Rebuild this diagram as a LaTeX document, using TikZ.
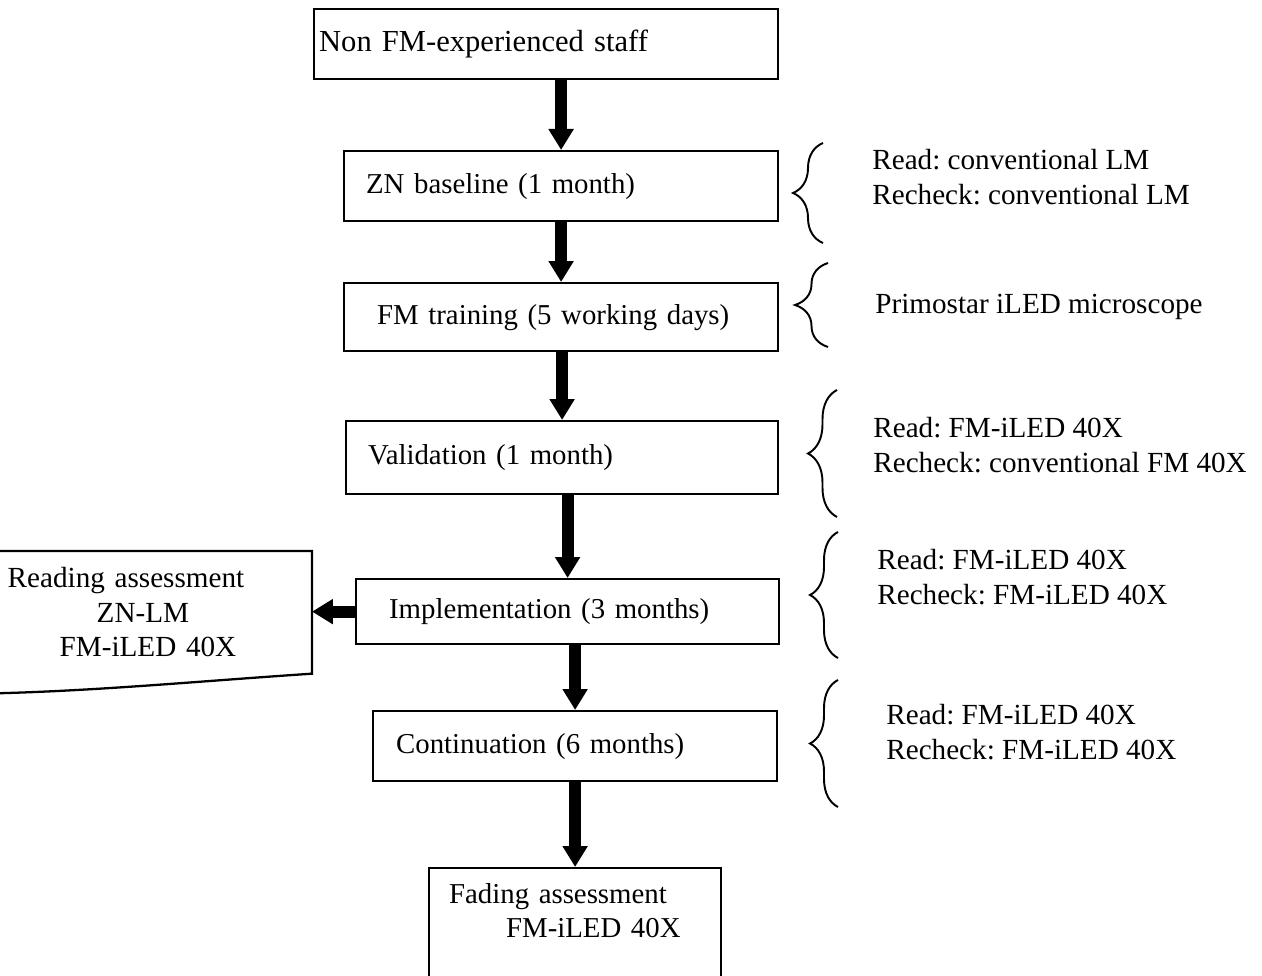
\documentclass[tikz,border=0pt]{standalone}
\usepackage{fontspec}
\setmainfont{Liberation Serif}
\usepackage{tikz}
\usetikzlibrary{arrows.meta,calc,decorations.pathreplacing}
\frenchspacing

\begin{document}
\begin{tikzpicture}[x=0.02cm,y=-0.02cm,
  stage/.style={draw,line width=1.3pt,anchor=north west,align=left,inner ysep=0pt,font=\fontsize{16.4}{19.6}\selectfont},
  note/.style={anchor=west,align=left,inner sep=0pt,font=\fontsize{16.6}{19.6}\selectfont},
  arr/.style={line width=0.24cm,-{Triangle[width=0.48cm,length=0.42cm]}},
  curly/.style={decorate,decoration={brace,amplitude=#1},line width=1.1pt}]
  \useasboundingbox (0,0) rectangle (1262,976);
  \clip (0,0) rectangle (1262,976);
  % main column
  \node[stage,text width=9.08cm,inner xsep=0.1cm,minimum height=1.4cm,font=\fontsize{17.4}{20}\selectfont] (nonfm) at (313,8) {Non FM-experienced staff};
  \node[stage,text width=7.8cm,inner xsep=0.44cm,minimum height=1.4cm] (znbase) at (343,150) {ZN baseline (1 month)};
  \node[stage,text width=7.36cm,inner xsep=0.66cm,minimum height=1.36cm] (fmtrain) at (343,282) {FM training (5 working days)};
  \node[stage,text width=7.76cm,inner xsep=0.44cm,minimum height=1.46cm] (valid) at (345,420) {Validation (1 month)};
  \node[stage,text width=7.14cm,inner xsep=0.66cm,minimum height=1.3cm] (implem) at (355,578) {Implementation (3 months)};
  \node[stage,text width=7.16cm,inner xsep=0.46cm,minimum height=1.4cm] (contin) at (372,710) {Continuation (6 months)};
  \node[stage,text width=5.04cm,inner xsep=0.4cm,inner ysep=0.3cm,text depth=1.7cm] (fading) at (428,867) {Fading assessment\\\hspace*{1.14cm}FM-iLED 40X};
  % side box
  \node[anchor=north east,align=left,text width=5.52cm,inner xsep=0.56cm,minimum height=2.44cm,font=\fontsize{16.6}{19.6}\selectfont] (readassess) at (312,551) {Reading assessment\\\hspace*{1.78cm}ZN-LM\\\hspace*{1.04cm}FM-iLED 40X};
  \draw[line width=1.3pt] ($(readassess.south west)+(0,20)$) -- (readassess.north west) -- (readassess.north east) -- (readassess.south east)
    .. controls +(-120,8) and +(110,-2) .. ($(readassess.south west)+(0,20)$);
  % arrows
  \draw[arr] (nonfm.south -| znbase.north) -- (znbase.north);
  \draw[arr] (znbase.south -| fmtrain.north) -- (fmtrain.north);
  \draw[arr] (fmtrain.south -| valid.north) -- (valid.north);
  \draw[arr] (valid.south -| implem.north) -- (implem.north);
  \draw[arr] (implem.south -| contin.north) -- (contin.north);
  \draw[arr] (contin.south -| fading.north) -- (fading.north);
  \draw[arr] (implem.west) -- (implem.west -| readassess.east);
  % braces and notes
  \draw[curly=0.6cm] (823,243) -- (823,143);
  \draw[curly=0.66cm] (828,347) -- (828,263);
  \draw[curly=0.58cm] (837,517) -- (837,390);
  \draw[curly=0.56cm] (838,658) -- (838,532);
  \draw[curly=0.56cm] (838,807) -- (838,680);
  \node[note] (readzn) at (872,177) {Read: conventional LM\\Recheck: conventional LM};
  \node[note] (primo) at (875,307) {Primostar iLED microscope};
  \node[note] (readval) at (873,445) {Read: FM-iLED 40X\\Recheck: conventional FM 40X};
  \node[note] (readimp) at (877,577) {Read: FM-iLED 40X\\Recheck: FM-iLED 40X};
  \node[note] (readcon) at (886,732) {Read: FM-iLED 40X\\Recheck: FM-iLED 40X};
\end{tikzpicture}
\end{document}
